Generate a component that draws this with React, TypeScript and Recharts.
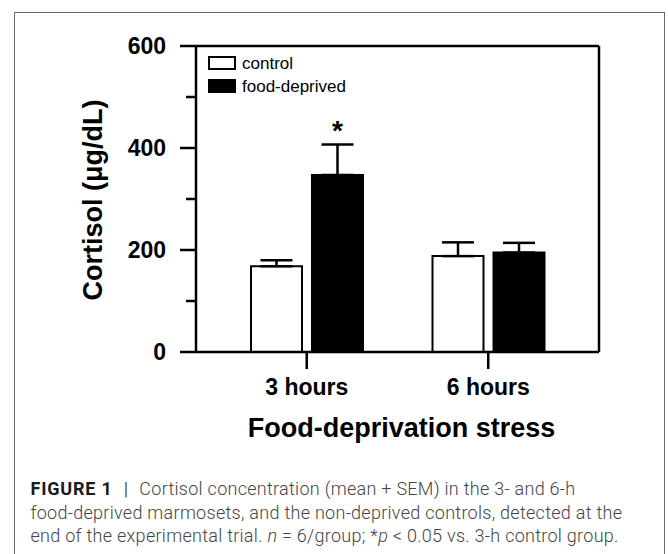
import React from 'react';
import { BarChart, Bar, XAxis, YAxis, ErrorBar, LabelList, Legend, Label, ReferenceLine } from 'recharts';

const categories = ['3 hours', '6 hours'];
const controlMean = [168, 188];
const controlSem = [12, 27];
const deprivedMean = [347, 195];
const deprivedSem = [60, 19];
const significance = ['*', ''];
const yTicks = [0, 100, 200, 300, 400, 500, 600];
const majorTicks = [0, 200, 400, 600];
const yMax = 600;
const seriesNames = ['control', 'food-deprived'];

const rows = categories.map((label, i) => ({
  label,
  control: controlMean[i],
  controlErr: [0, controlSem[i]],
  deprived: deprivedMean[i],
  deprivedErr: [0, deprivedSem[i]],
  sig: significance[i],
}));

const FONT = '"Liberation Sans", Arial, sans-serif';
const Y_TICK_SIZE = 16;
const Y_TICK_MARGIN = 14;

const YTick = (props: any) => {
  const { x, y, payload } = props;
  const v = payload.value;
  const major = majorTicks.includes(v);
  const axisX = x + Y_TICK_MARGIN + Y_TICK_SIZE;
  const len = major ? 16 : 10;
  return (
    <g>
      <line x1={axisX - len} x2={axisX} y1={y} y2={y} stroke="#000" strokeWidth={2.5} />
      {major && (
        <text x={x} y={y} dy="0.36em" textAnchor="end" fontFamily={FONT} fontWeight="bold" fontSize={23} fill="#000">
          {v}
        </text>
      )}
    </g>
  );
};

const renderLegend = (props: any) => {
  const payload = props.payload || [];
  return (
    <div style={{ fontFamily: FONT }}>
      {payload.map((entry: any, i: number) => (
        <div key={i} style={{ display: 'flex', alignItems: 'center', height: 14, marginBottom: 9.3 }}>
          <div style={{ width: 24, height: 10, border: '2px solid #000', background: entry.color, boxSizing: 'content-box' }} />
          <span style={{ marginLeft: 6, fontSize: 17, lineHeight: '14px', color: '#000', position: 'relative', top: 1 }}>{entry.value}</span>
        </div>
      ))}
    </div>
  );
};

const renderSig = (props: any) => {
  const { x, y, width, height, index } = props;
  const value = significance[index];
  if (!value) return null;
  const perUnit = height / deprivedMean[index];
  const errTop = y - deprivedSem[index] * perUnit;
  return (
    <text x={x + width / 2} y={errTop - 4} textAnchor="middle" fontFamily={FONT} fontWeight="bold" fontSize={28} fill="#000">
      {value}
    </text>
  );
};

export default function App() {
  return (
    <div style={{ position: 'absolute', left: 0, top: 0, width: 668, height: 554, overflow: 'hidden', background: '#fff' }}>
      <BarChart
        width={668}
        height={554}
        data={rows}
        margin={{ top: 46, right: 0, bottom: 142, left: 0 }}
        barSize={51}
        barGap={10}
      >
        <XAxis
          dataKey="label"
          padding={{ left: 20, right: 20 }}
          height={60}
          interval={0}
          tickSize={17}
          tickMargin={10}
          axisLine={{ stroke: '#000', strokeWidth: 2.5 }}
          tickLine={{ stroke: '#000', strokeWidth: 2.5 }}
          tick={{ fontFamily: FONT, fontWeight: 'bold', fontSize: 23, fill: '#000' }}
        >
          <Label
            content={(p: any) => {
              const vb = p.viewBox || {};
              return (
                <text x={vb.x + vb.width / 2 + 4} y={vb.y + 85} textAnchor="middle" fontFamily={FONT} fontWeight="bold" fontSize={27} fill="#000">
                  Food-deprivation stress
                </text>
              );
            }}
          />
        </XAxis>
        <YAxis
          type="number"
          domain={[0, yMax]}
          ticks={yTicks}
          interval={0}
          width={196}
          tickSize={Y_TICK_SIZE}
          tickMargin={Y_TICK_MARGIN}
          tickLine={{ stroke: 'none' }}
          axisLine={{ stroke: '#000', strokeWidth: 2.5 }}
          tick={<YTick />}
        >
          <Label
            content={(p: any) => {
              const vb = p.viewBox || {};
              const cy = vb.y + vb.height / 2 + 1;
              return (
                <text x={102} y={cy} transform={`rotate(-90, 102, ${cy})`} textAnchor="middle" fontFamily={FONT} fontWeight="bold" fontSize={27} fill="#000">
                  Cortisol (μg/dL)
                </text>
              );
            }}
          />
        </YAxis>
        <YAxis
          yAxisId="right"
          orientation="right"
          type="number"
          domain={[0, yMax]}
          width={69}
          tick={false}
          tickLine={false}
          axisLine={{ stroke: '#000', strokeWidth: 2.5 }}
        />
        <ReferenceLine y={yMax} stroke="#000" strokeWidth={2.5} ifOverflow="visible" />
        <Legend
          layout="horizontal"
          verticalAlign="middle"
          align="center"
          content={renderLegend}
          wrapperStyle={{ left: 208, top: 56, width: 'auto', height: 'auto' }}
        />
        <Bar dataKey="control" name={seriesNames[0]} fill="#fff" stroke="#000" strokeWidth={2} isAnimationActive={false}>
          <ErrorBar dataKey="controlErr" direction="y" width={16} stroke="#000" strokeWidth={2.5} isAnimationActive={false} />
        </Bar>
        <Bar dataKey="deprived" name={seriesNames[1]} fill="#000" stroke="#000" strokeWidth={2} isAnimationActive={false}>
          <ErrorBar dataKey="deprivedErr" direction="y" width={16} stroke="#000" strokeWidth={2.5} isAnimationActive={false} />
          <LabelList dataKey="sig" content={renderSig} />
        </Bar>
      </BarChart>
      <div style={{ position: 'absolute', left: 14, top: 12, width: 651, height: 600, border: '1.5px solid #6a6a6a', boxSizing: 'border-box', pointerEvents: 'none' }} />
      <div style={{ position: 'absolute', left: 30.5, top: 477, fontFamily: 'Roboto, "Liberation Sans", sans-serif', fontWeight: 300, fontSize: 18, letterSpacing: 0.28, lineHeight: '23.5px', color: '#444', whiteSpace: 'nowrap' }}>
        <div>
          <span style={{ fontWeight: 700, color: '#1a1a1a', letterSpacing: 0.8 }}>FIGURE 1</span>
          <span style={{ margin: '0 11px', fontWeight: 400, color: '#555' }}>|</span>
          Cortisol concentration (mean + SEM) in the 3- and 6-h
        </div>
        <div>food-deprived marmosets, and the non-deprived controls, detected at the</div>
        <div>
          end of the experimental trial. <i>n</i> = 6/group; *<i>p</i> &lt; 0.05 vs. 3-h control group.
        </div>
      </div>
    </div>
  );
}
